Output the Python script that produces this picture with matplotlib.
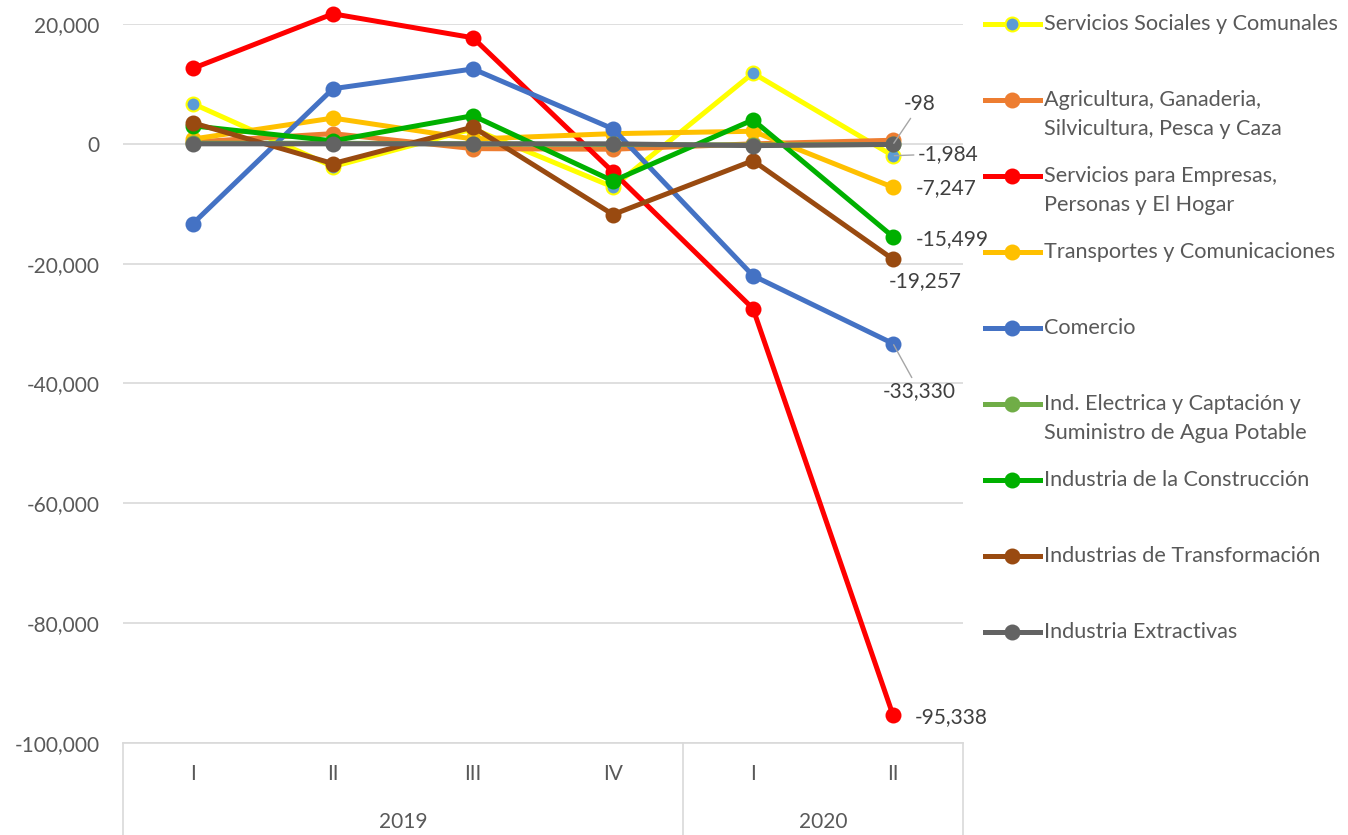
import numpy as np
import matplotlib
matplotlib.use("Agg")
import matplotlib.pyplot as plt
from matplotlib.lines import Line2D
import matplotlib.transforms as mtransforms

plt.rcParams['font.family'] = ['Lato', 'DejaVu Sans']

quarters = ["I", "II", "III", "IV", "I", "II"]
years = ["2019", "2020"]
year_spans = [(0, 3), (4, 5)]

series_names = [
    "Servicios Sociales y Comunales",
    "Agricultura, Ganaderia,\nSilvicultura, Pesca y Caza",
    "Servicios para Empresas,\nPersonas y El Hogar",
    "Transportes y Comunicaciones",
    "Comercio",
    "Ind. Electrica y Captación y\nSuministro de Agua Potable",
    "Industria de la Construcción",
    "Industrias de Transformación",
    "Industria Extractivas",
]

servicios_sociales = [6700, -3800, 2500, -7200, 11800, -1984]
agricultura = [300, 1700, -800, -900, 0, 600]
servicios_empresas = [12600, 21700, 17700, -4700, -27500, -95338]
transportes = [800, 4300, 800, 1700, 2100, -7247]
comercio = [-13300, 9200, 12500, 2500, -22000, -33330]
ind_electrica = [100, 100, 0, -100, -200, -100]
construccion = [3000, 500, 4700, -6200, 4000, -15499]
transformacion = [3500, -3300, 2800, -11800, -2800, -19257]
extractivas = [0, 0, 0, 0, -300, -98]

series_values = [servicios_sociales, agricultura, servicios_empresas, transportes,
                 comercio, ind_electrica, construccion, transformacion, extractivas]
line_colors = ["#FFFF00", "#ED7D31", "#FF0000", "#FFC000", "#4472C4",
               "#70AD47", "#00B000", "#994A10", "#636363"]
face_colors = ["#5B9BD5", "#ED7D31", "#FF0000", "#FFC000", "#4472C4",
               "#70AD47", "#00B000", "#994A10", "#636363"]

# label at the last point: (series index, x offset px, y offset px, ha, leader line)
end_labels = [
    (8, 27, 40, 'center', True),
    (0, 25, 2, 'left', True),
    (3, 23, -1, 'left', False),
    (6, 23, -2, 'left', False),
    (7, -4, -22, 'left', False),
    (4, -10, -48, 'left', True),
    (2, 22, -2, 'left', False),
]

W, H = 1348, 835
fig = plt.figure(figsize=(W / 100, H / 100), dpi=100)
ax = fig.add_axes([123 / W, 92 / H, 840 / W, 719 / H])

x = np.arange(len(quarters))
for i, vals in enumerate(series_values):
    ax.plot(x, vals, color=line_colors[i], lw=3.6, marker='o', ms=10,
            mfc=face_colors[i], mec=line_colors[i], mew=1.5, clip_on=False,
            zorder=3 + i)

ax.set_xlim(-0.5, 5.5)
ax.set_ylim(-100000, 20000)
ax.set_yticks(np.arange(-100000, 20001, 20000))
ax.yaxis.set_major_formatter(matplotlib.ticker.FuncFormatter(lambda v, p: f"{int(v):,}"))
ax.grid(axis='y', color='#D9D9D9', lw=1.2)
ax.set_axisbelow(True)
for s in ['top', 'right', 'left']:
    ax.spines[s].set_visible(False)
ax.spines['bottom'].set_color('#D9D9D9')
ax.spines['bottom'].set_linewidth(1.2)
ax.tick_params(axis='y', length=0, labelsize=15, labelcolor='#595959', pad=17)
ax.set_xticks(x)
ax.set_xticklabels(quarters)
ax.tick_params(axis='x', length=0, labelsize=15, labelcolor='#595959', pad=15)

# two-level category axis
trans = mtransforms.blended_transform_factory(ax.transData, ax.transAxes)
bottom = -92 / 719
for xb in [-0.5, 3.5, 5.5]:
    ax.plot([xb, xb], [0, bottom], color='#D9D9D9', lw=1.2, transform=trans, clip_on=False)
for yr, (a, b) in zip(years, year_spans):
    ax.text((a + b) / 2, -79 / 719, yr, transform=trans, ha='center', va='center',
            fontsize=15, color='#595959')

for idx, dx, dy, ha, leader in end_labels:
    v = series_values[idx][-1]
    arrow = dict(arrowstyle='-', color='#A6A6A6', lw=1, shrinkA=1, shrinkB=1) if leader else None
    ax.annotate(f"{v:,}", xy=(5, v), xytext=(dx, dy), textcoords='offset pixels',
                ha=ha, va='center', fontsize=15, color='#404040',
                arrowprops=arrow, zorder=20)

# legend
for i, name in enumerate(series_names):
    yc = 1 - (24 + 76 * i) / H
    fig.add_artist(Line2D([985 / W, 1040 / W], [yc, yc], color=line_colors[i], lw=3.6,
                          transform=fig.transFigure))
    fig.add_artist(Line2D([1012 / W], [yc], marker='o', ms=10, mfc=face_colors[i],
                          mec=line_colors[i], mew=1.5, transform=fig.transFigure))
    for j, part in enumerate(name.split("\n")):
        fig.text(1044 / W, yc - 29 * j / H, part, ha='left', va='center',
                 fontsize=15.6, color='#595959')

fig.savefig("out.png", dpi=100)
